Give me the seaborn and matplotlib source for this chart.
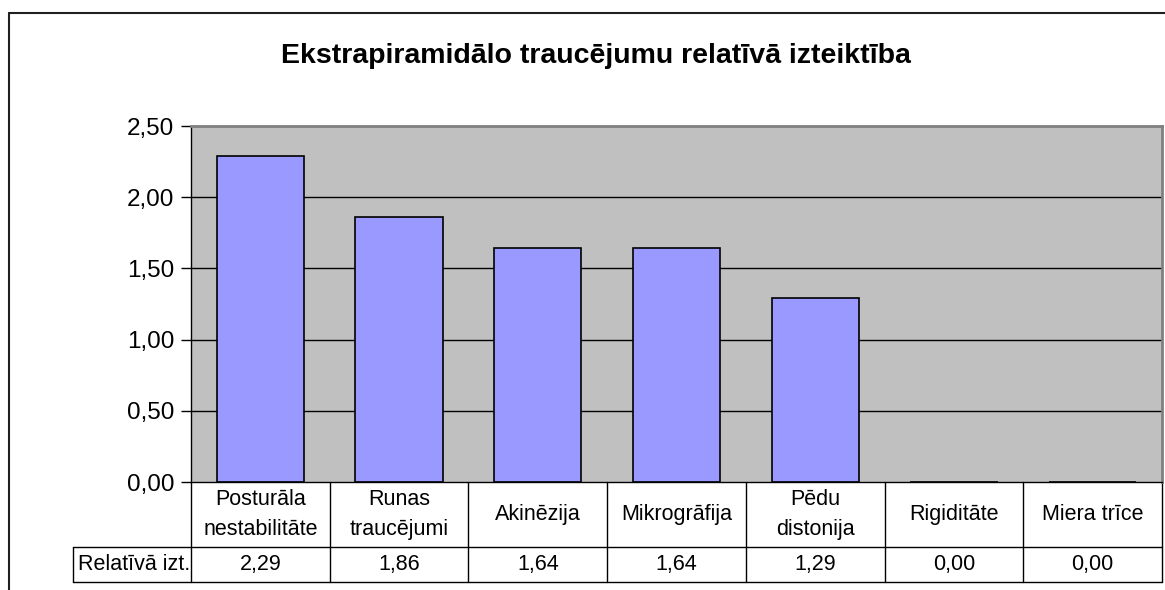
import matplotlib
matplotlib.use('Agg')
import matplotlib.pyplot as plt
import seaborn as sns
import pandas as pd
import numpy as np
from matplotlib.lines import Line2D
import matplotlib.transforms as mtransforms

categories = ['Posturāla\nnestabilitāte', 'Runas\ntraucējumi', 'Akinēzija', 'Mikrogrāfija',
              'Pēdu\ndistonija', 'Rigiditāte', 'Miera trīce']
values = [2.29, 1.86, 1.64, 1.64, 1.29, 0.00, 0.00]
row_label = 'Relatīvā izt.'
yticks = [0.0, 0.5, 1.0, 1.5, 2.0, 2.5]
title = 'Ekstrapiramidālo traucējumu relatīvā izteiktība'

df = pd.DataFrame({'cat': categories, 'val': values})

sns.set_style('white')
plt.rcParams['font.family'] = ['Liberation Sans', 'DejaVu Sans']
plt.rcParams['text.color'] = 'black'
plt.rcParams['ytick.color'] = 'black'
plt.rcParams['ytick.labelcolor'] = 'black'

W, H = 1165, 590
fig = plt.figure(figsize=(W / 100, H / 100), dpi=100)
ax = fig.add_axes([191 / W, 1 - 482 / H, (1162 - 191) / W, (482 - 126) / H])
ax.set_facecolor('#C0C0C0')
for y in yticks[1:-1]:
    ax.axhline(y, color='black', lw=1, zorder=0.5)

sns.barplot(data=df, x='cat', y='val', color='#9999FF', width=0.63,
            edgecolor='black', linewidth=1.2, saturation=1, ax=ax, zorder=2)

ax.set_ylim(0, 2.5)
ax.set_xlim(-0.5, len(categories) - 0.5)
ax.set_yticks(yticks)
ax.set_yticklabels([f'{v:.2f}'.replace('.', ',') for v in yticks], fontsize=17.5)
ax.tick_params(axis='y', direction='out', length=7, width=1, color='black', pad=5, left=True)
ax.set_xticks([])
ax.set_xlabel('')
ax.set_ylabel('')
ax.spines['left'].set_color('black')
ax.spines['bottom'].set_color('black')
ax.spines['top'].set_color('#808080')
ax.spines['right'].set_color('#808080')
for s in ['top', 'right']:
    ax.spines[s].set_linewidth(2)
for s in ['left', 'bottom']:
    ax.spines[s].set_linewidth(1)

# data table under the plot: x in category units, y in axes fraction
ah = 482 - 126
col_w = (1162 - 191) / len(categories)
lab_left = -0.5 - (191 - 73) / col_w
y_head = -(547 - 482) / ah
y_data = -(582 - 482) / ah
tr = mtransforms.blended_transform_factory(ax.transData, ax.transAxes)
n = len(categories)
lk = dict(color='black', lw=1, transform=tr, clip_on=False)
ax.add_line(Line2D([-0.5, n - 0.5], [y_head, y_head], **lk))
ax.add_line(Line2D([lab_left, n - 0.5], [y_data, y_data], **lk))
ax.add_line(Line2D([lab_left, -0.5], [y_head, y_head], **lk))
ax.add_line(Line2D([lab_left, lab_left], [y_head, y_data], **lk))
for i in range(n + 1):
    ax.add_line(Line2D([i - 0.5, i - 0.5], [0, y_data], **lk))
for i, (c, v) in enumerate(zip(categories, values)):
    ax.text(i, y_head / 2, c, transform=tr, ha='center', va='center',
            fontsize=15.5, linespacing=1.6)
    ax.text(i, (y_head + y_data) / 2, f'{v:.2f}'.replace('.', ','), transform=tr,
            ha='center', va='center', fontsize=15.5)
ax.text(lab_left + 0.035, (y_head + y_data) / 2, row_label, transform=tr,
        ha='left', va='center', fontsize=15.5)

fig.text(596 / W, 1 - 56 / H, title, ha='center', va='center', fontsize=20.5, fontweight='bold')

# outer chart frame (left and top edges visible)
fig.add_artist(Line2D([9 / W, 9 / W], [0, 1 - 12.5 / H], color='#202020', lw=1.5))
fig.add_artist(Line2D([9 / W, 1], [1 - 12.5 / H, 1 - 12.5 / H], color='#202020', lw=1.5))

fig.savefig('out.png', dpi=100)
